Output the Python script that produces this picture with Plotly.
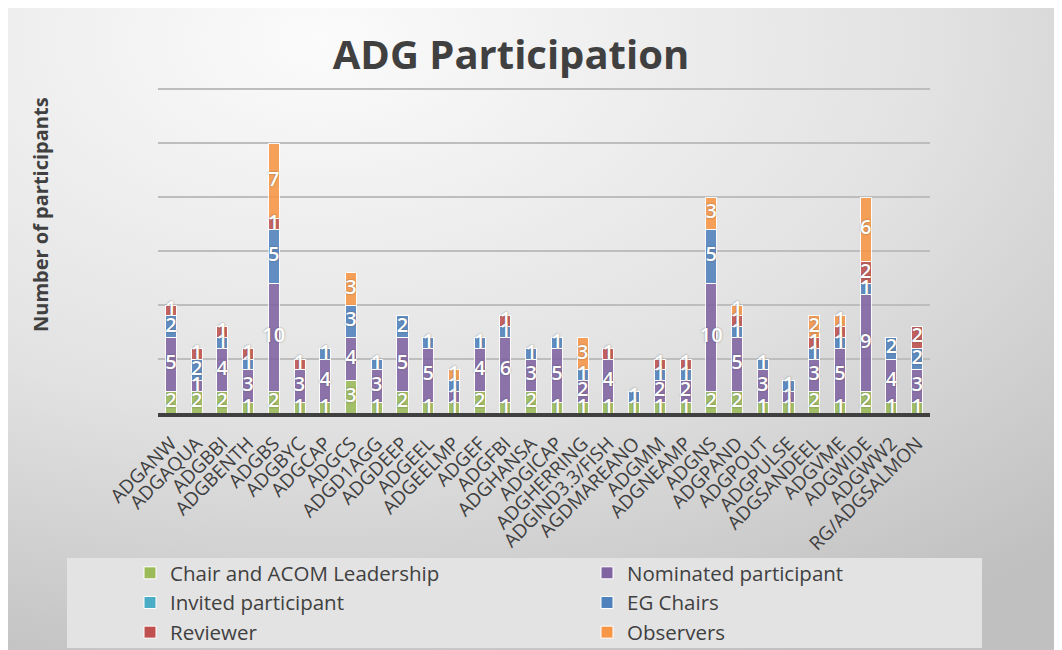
import base64
import plotly.graph_objects as go

categories = ["ADGANW", "ADGAQUA", "ADGBBI", "ADGBENTH", "ADGBS", "ADGBYC", "ADGCAP", "ADGCS",
              "ADGD1AGG", "ADGDEEP", "ADGEEL", "ADGEELMP", "ADGEF", "ADGFBI", "ADGHANSA", "ADGICAP",
              "ADGHERRING", "ADGIND3.3/FISH", "AGDMAREANO", "ADGMM", "ADGNEAMP", "ADGNS", "ADGPAND",
              "ADGPOUT", "ADGPULSE", "ADGSANDEEL", "ADGVME", "ADGWIDE", "ADGWW2", "RG/ADGSALMON"]

chair_acom = [2, 2, 2, 1, 2, 1, 1, 3, 1, 2, 1, 1, 2, 1, 2, 1, 1, 1, 1, 1, 1, 2, 2, 1, 1, 2, 1, 2, 1, 1]
nominated = [5, 1, 4, 3, 10, 3, 4, 4, 3, 5, 5, 1, 4, 6, 3, 5, 2, 4, 0, 2, 2, 10, 5, 3, 1, 3, 5, 9, 4, 3]
invited = [0] * 30
eg_chairs = [2, 2, 1, 1, 5, 0, 1, 3, 1, 2, 1, 1, 1, 1, 1, 1, 1, 0, 1, 1, 1, 5, 1, 1, 1, 1, 1, 1, 2, 2]
reviewer = [1, 1, 1, 1, 1, 1, 0, 0, 0, 0, 0, 0, 0, 1, 0, 0, 0, 1, 0, 1, 1, 0, 1, 0, 0, 1, 1, 2, 0, 2]
observers = [0, 0, 0, 0, 7, 0, 0, 3, 0, 0, 0, 1, 0, 0, 0, 0, 3, 0, 0, 0, 0, 3, 1, 0, 0, 2, 1, 6, 0, 0]

series = [
    ("Chair and ACOM Leadership", chair_acom, "#9BBB59", "legend"),
    ("Nominated participant", nominated, "#8064A2", "legend2"),
    ("Invited participant", invited, "#4BACC6", "legend"),
    ("EG Chairs", eg_chairs, "#4F81BD", "legend2"),
    ("Reviewer", reviewer, "#C0504D", "legend"),
    ("Observers", observers, "#F79646", "legend2"),
]

fig = go.Figure()
for name, vals, color, leg in series:
    fig.add_trace(go.Bar(
        x=categories, y=vals, name=name,
        marker=dict(color=color, opacity=0.88, line=dict(color="white", width=1)),
        legend=leg, legendgroup=name, hoverinfo="x+y+name",
    ))

# data labels drawn above all bars, centred on each stacked segment
base = [0] * len(categories)
for name, vals, color, leg in series:
    xs, ys, ts = [], [], []
    for i, v in enumerate(vals):
        if v:
            xs.append(categories[i])
            ys.append(base[i] + v / 2)
            ts.append(str(v))
        base[i] += v
    fig.add_trace(go.Scatter(
        x=xs, y=ys, text=ts, mode="text", textposition="middle center",
        textfont=dict(color="white", size=20, family="Open Sans", weight=600,
                      shadow="0px 0px 2px rgba(60,60,60,0.55)"),
        showlegend=False, hoverinfo="skip", cliponaxis=False,
    ))

OFF = 8  # page body margin
W, H = 1054, 642
L, R, T, B = 150, 132, 80, 237
pw, ph = W - L - R, H - T - B

svg = (f"<svg xmlns='http://www.w3.org/2000/svg' width='{W}' height='{H}'>"
       "<defs><radialGradient id='g' cx='0.3' cy='0.05' r='1.05'>"
       "<stop offset='0' stop-color='#fbfbfb'/><stop offset='0.55' stop-color='#e2e2e2'/>"
       "<stop offset='1' stop-color='#c0c0c0'/></radialGradient></defs>"
       f"<rect width='{W}' height='{H}' fill='url(#g)'/></svg>")
src = "data:image/svg+xml;base64," + base64.b64encode(svg.encode()).decode()


def px_x(p):
    return (p - OFF - L) / pw


def px_y(p):
    return (H - B - (p - OFF)) / ph


fig.update_layout(
    width=W, height=H,
    margin=dict(l=L, r=R, t=T, b=B, autoexpand=False),
    barmode="stack", bargap=0.57,
    paper_bgcolor="rgba(0,0,0,0)", plot_bgcolor="rgba(0,0,0,0)",
    font=dict(family="Open Sans", color="#404040"),
    title=dict(text="<b>ADG Participation</b>", xref="container", x=(511 - OFF) / W,
               xanchor="center", yref="container", y=1 - (55 - OFF) / H, yanchor="middle",
               font=dict(size=40, color="#404040", family="Open Sans")),
    images=[dict(source=src, xref="paper", yref="paper", x=px_x(OFF), y=px_y(OFF),
                 sizex=W / pw, sizey=H / ph, xanchor="left", yanchor="top",
                 sizing="stretch", layer="below")],
    shapes=[dict(type="rect", xref="paper", yref="paper", x0=px_x(67), x1=px_x(982),
                 y0=px_y(648), y1=px_y(558), fillcolor="#e3e3e3", line=dict(width=0),
                 layer="below")],
    annotations=[dict(text="<b>Number of participants</b>", xref="paper", yref="paper",
                      x=px_x(40), y=px_y(215), textangle=-90, showarrow=False,
                      xanchor="center", yanchor="middle",
                      font=dict(size=20, color="#404040", family="Open Sans"))],
    xaxis=dict(type="category", categoryorder="array", categoryarray=categories,
               range=[-0.5, len(categories) - 0.5],
               tickmode="linear", dtick=1, tickangle=-45,
               tickfont=dict(size=19, color="#404040", family="Open Sans"),
               showline=True, linecolor="#404040", linewidth=4, ticks="",
               ticklabelstandoff=8, showgrid=False, fixedrange=True, layer="below traces"),
    yaxis=dict(range=[0, 30.1], tickmode="linear", tick0=0, dtick=5, showticklabels=False,
               gridcolor="#bdbdbd", gridwidth=2, zeroline=False, showline=False,
               fixedrange=True),
    legend=dict(x=px_x(130), y=px_y(553), xanchor="left", yanchor="top",
                orientation="v", traceorder="grouped", tracegroupgap=0,
                bgcolor="rgba(0,0,0,0)", font=dict(size=20.5, color="#404040", family="Open Sans")),
    legend2=dict(x=px_x(587), y=px_y(553), xanchor="left", yanchor="top",
                 orientation="v", traceorder="grouped", tracegroupgap=0,
                 bgcolor="rgba(0,0,0,0)", font=dict(size=20.5, color="#404040", family="Open Sans")),
    showlegend=True,
)

fig.write_html("out.html")
